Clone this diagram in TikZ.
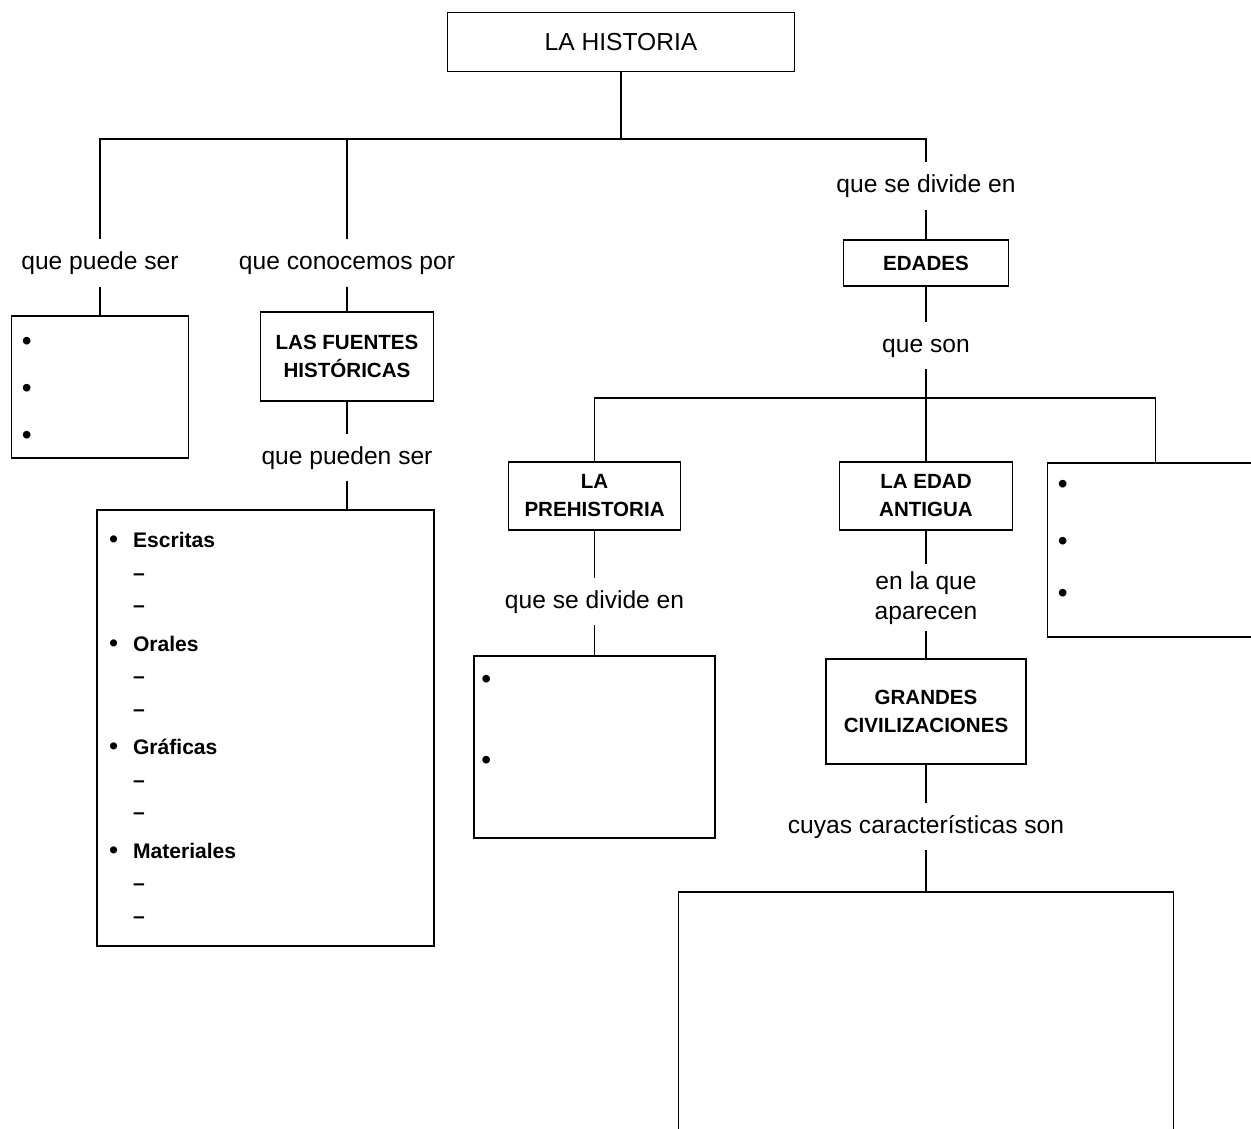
\documentclass[tikz,border=0pt]{standalone}
\usepackage{fontspec}
\setmainfont{Liberation Sans}
\usetikzlibrary{arrows,shapes}
\tikzstyle{topblock} = [rectangle, draw, line width=0.8pt, minimum width=6.94cm, minimum height=1.18cm, font=\fontsize{14}{17}\selectfont]
\tikzstyle{block} = [rectangle, draw, line width=0.8pt, align=center, inner sep=0pt, font=\fontsize{11.7}{16}\selectfont\bfseries]
\tikzstyle{emptyblock} = [rectangle, draw, line width=0.8pt, inner sep=0pt]
\tikzstyle{listblock} = [rectangle, draw, line width=0.8pt, align=left, text width=177.8pt, inner xsep=7pt, font=\fontsize{12}{18.5}\selectfont\bfseries]
\tikzstyle{linkbase} = [rectangle, inner sep=0pt, minimum height=0.92cm, align=center, font=\fontsize{14}{17}\selectfont]
\tikzstyle{linklabel} = [linkbase, text height=10pt, text depth=3pt]
\tikzstyle{dot} = [inner sep=0pt, font=\fontsize{16}{16}\selectfont]
\newcommand{\listbul}{\makebox[13.5pt][l]{\fontsize{14}{14}\selectfont•}}
\newcommand{\listdash}{\hspace*{13.5pt}–}

\begin{document}
\begin{tikzpicture}[x=0.02cm, y=-0.02cm, node distance=2cm, line width=0.6pt]
   \useasboundingbox (0,0) rectangle (1251,1129);
   \clip (0,0) rectangle (1251,1129);
   % nodes
   \node[topblock] (hist) at (621,42) {LA HISTORIA};
   \coordinate (split1) at (621,139);
   \node[linklabel] (puede) at (100,263) {que puede ser};
   \node[linklabel] (conocemos) at (347,263) {que conocemos por};
   \node[linklabel] (divide) at (926,186) {que se divide en};

   \node[emptyblock, minimum width=3.54cm, minimum height=2.84cm] (tipos) [below of=puede, node distance=2.48cm] {};
   \node[dot] (t1) at ([xshift=0.32cm,yshift=-0.58cm]tipos.north west) {•};
   \node[dot] (t2) at ([xshift=0.32cm,yshift=-1.52cm]tipos.north west) {•};
   \node[dot] (t3) at ([xshift=0.32cm,yshift=-2.46cm]tipos.north west) {•};

   \node[block, minimum width=3.46cm, minimum height=1.78cm] (fuentes) [below of=conocemos, node distance=1.87cm] {LAS FUENTES\\HISTÓRICAS};
   \node[linklabel] (pueden) [below of=fuentes, node distance=2.03cm] {que pueden ser};
   \node[listblock, minimum height=8.72cm] (clases) [below of=pueden, node distance=5.4cm, xshift=-1.63cm]
      {\listbul Escritas\\ \listdash\\ \listdash\\[3.4pt]
       \listbul Orales\\ \listdash\\ \listdash\\[3.4pt]
       \listbul Gráficas\\ \listdash\\ \listdash\\[3.4pt]
       \listbul Materiales\\ \listdash\\ \listdash};

   \node[block, minimum width=3.3cm, minimum height=0.92cm] (edades) [below of=divide, node distance=1.54cm] {EDADES};
   \node[linklabel] (son) [below of=edades, node distance=1.66cm] {que son};
   \coordinate (split2) at (926,398);
   \node[block, minimum width=3.46cm, minimum height=1.36cm] (antigua) [below of=son, node distance=3.0cm] {LA EDAD\\ANTIGUA};
   \node[block, minimum width=3.44cm, minimum height=1.36cm] (prehist) [left of=antigua, node distance=6.63cm] {LA\\PREHISTORIA};
   \node[emptyblock, minimum width=4.32cm, minimum height=3.48cm] (otras) [right of=antigua, node distance=4.59cm, yshift=-1.08cm] {};
   \node[dot] (o1) at ([xshift=0.32cm,yshift=-0.5cm]otras.north west) {•};
   \node[dot] (o2) at ([xshift=0.32cm,yshift=-1.64cm]otras.north west) {•};
   \node[dot] (o3) at ([xshift=0.32cm,yshift=-2.68cm]otras.north west) {•};

   \node[linklabel] (pdivide) [below of=prehist, node distance=2.12cm] {que se divide en};
   \node[emptyblock, minimum width=4.82cm, minimum height=3.64cm] (etapas) [below of=pdivide, node distance=2.9cm] {};
   \node[dot] (e1) at ([xshift=0.26cm,yshift=-0.54cm]etapas.north west) {•};
   \node[dot] (e2) at ([xshift=0.26cm,yshift=-2.16cm]etapas.north west) {•};

   \node[linkbase, minimum height=1.32cm] (aparecen) [below of=antigua, node distance=2.04cm] {en la que\\aparecen};
   \node[block, minimum width=4.0cm, minimum height=2.1cm] (grandes) [below of=aparecen, node distance=2.27cm] {GRANDES\\CIVILIZACIONES};
   \node[linklabel] (cuyas) [below of=grandes, node distance=2.31cm] {cuyas características son};
   \node[emptyblock, minimum width=9.9cm, minimum height=5.36cm] (rasgos) [below of=cuyas, node distance=3.98cm] {};

   % edges
   \draw (hist) -- (split1);
   \draw (puede.north) |- (split1);
   \draw (split1) -| (divide.north);
   \draw (conocemos.north) -- (conocemos.north |- split1);
   \draw (puede) -- (tipos);
   \draw (conocemos) -- (fuentes);
   \draw (fuentes) -- (pueden);
   \draw (pueden.south) -- (pueden.south |- clases.north);
   \draw (divide) -- (edades);
   \draw (edades) -- (son);
   \draw (son) -- (antigua);
   \draw (prehist.north) |- (split2) -| (otras.north);
   \draw (prehist) -- (pdivide);
   \draw (pdivide) -- (etapas);
   \draw (antigua) -- (aparecen);
   \draw (aparecen) -- (grandes);
   \draw (grandes) -- (cuyas);
   \draw (cuyas) -- (rasgos);
\end{tikzpicture}
\end{document}
